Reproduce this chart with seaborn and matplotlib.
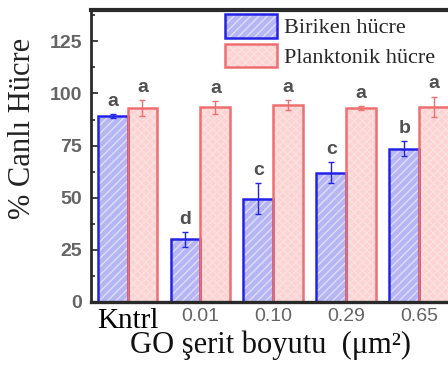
import matplotlib
matplotlib.use("Agg")
import matplotlib.pyplot as plt
import numpy as np
import pandas as pd
import seaborn as sns
from matplotlib.patches import Rectangle, Patch
from matplotlib.legend_handler import HandlerTuple
from matplotlib.ticker import MultipleLocator

# ---- data -------------------------------------------------------------
groups = ["Kntrl", "0.01", "0.10", "0.29", "0.65"]
series = ["Biriken hücre", "Planktonik hücre"]

biriken = [89.0, 30.0, 49.5, 62.0, 73.5]
biriken_err = [1.0, 3.5, 7.5, 5.0, 3.5]
biriken_letters = ["a", "d", "c", "c", "b"]

plankton = [93.0, 93.3, 94.5, 93.0, 93.5]
plankton_err = [4.0, 3.0, 2.5, 1.0, 5.0]
plankton_letters = ["a", "a", "a", "a", "a"]

yticks = [0, 25, 50, 75, 100, 125]

# ---- styling ----------------------------------------------------------
sns.set_style("white")
plt.rcParams["font.family"] = ["Liberation Sans", "DejaVu Sans"]
plt.rcParams["hatch.linewidth"] = 0.9

SERIF = ["Liberation Serif", "DejaVu Serif"]
SANS = ["Liberation Sans", "DejaVu Sans"]

blue_fill, blue_edge = "#b6b6f4", "#2323e6"
pink_fill, pink_edge = "#fcd3d3", "#ee6f6f"
blue_hatch = (1, 1, 1, 0.6)
pink_hatch = (1, 1, 1, 0.3)

df = pd.DataFrame({
    "grup": groups * 2,
    "seri": [series[0]] * len(groups) + [series[1]] * len(groups),
    "deger": biriken + plankton,
})

W, H = 448, 376
fig = plt.figure(figsize=(W / 100, H / 100), dpi=100)
# the plotting area runs on past the right edge of the canvas
ax = fig.add_axes([90.5 / W, 74 / H, 401.5 / W, 292 / H])

sns.barplot(data=df, x="grup", y="deger", hue="seri", order=groups,
            hue_order=series, palette=[blue_fill, pink_fill], width=0.82,
            errorbar=None, saturation=1, legend=False, ax=ax)

styles = [
    (blue_edge, blue_hatch, "////", biriken, biriken_err, biriken_letters),
    (pink_edge, pink_hatch, "xxxx", plankton, plankton_err, plankton_letters),
]
for container, (edge, hcol, hatch, means, errs, letters) in zip(ax.containers, styles):
    xs = []
    for bar, m, e, lt in zip(container, means, errs, letters):
        bar.set_edgecolor(hcol)
        bar.set_linewidth(0)
        bar.set_hatch(hatch)
        ax.add_patch(Rectangle(bar.get_xy(), bar.get_width(), bar.get_height(),
                               fill=False, edgecolor=edge, lw=1.8,
                               zorder=bar.get_zorder() + 0.1))
        xc = bar.get_x() + bar.get_width() / 2
        xs.append(xc)
        ax.annotate(lt, (xc, m + e), xytext=(0, 3), textcoords="offset points",
                    ha="center", va="bottom", fontsize=14, fontweight="bold",
                    color="#505050", family=SANS)
    ax.errorbar(xs, means, yerr=errs, fmt="none", ecolor=edge,
                elinewidth=1.0, capsize=2, capthick=1.0, zorder=4)

# ---- axes -------------------------------------------------------------
ax.set_xlim(-0.508, 5.0)
ax.set_ylim(0, 140)
ax.set_yticks(yticks)
ax.yaxis.set_minor_locator(MultipleLocator(12.5))
ax.tick_params(axis="y", which="both", direction="in", left=True,
               color="#222222", width=1.2, pad=6)
ax.tick_params(axis="y", which="major", length=5, labelsize=14,
               labelcolor="#646464")
ax.tick_params(axis="y", which="minor", length=3)
for lbl in ax.get_yticklabels():
    lbl.set_fontweight("bold")

ax.set_xticks(range(len(groups)))
ax.set_xticklabels(groups)
ax.tick_params(axis="x", length=0, pad=4)
for lbl in ax.get_xticklabels():
    if lbl.get_text() == "Kntrl":
        lbl.set_family(SERIF)
        lbl.set_fontsize(21)
        lbl.set_color("black")
    else:
        lbl.set_family(SANS)
        lbl.set_fontsize(14)
        lbl.set_color("#646464")

for side in ["top", "left", "bottom", "right"]:
    ax.spines[side].set_color("#2a2a2a")
ax.spines["top"].set_linewidth(3)
ax.spines["left"].set_linewidth(2)
ax.spines["bottom"].set_linewidth(2.4)

ax.set_ylabel("% Canlı Hücre", family=SERIF, fontsize=22, color="#222222")
ax.yaxis.set_label_coords((37 - 90.5) / 401.5, (302 - 128) / 292)
ax.set_xlabel("GO şerit boyutu  (μm²)", family=SERIF, fontsize=22,
              color="#111111")
ax.xaxis.set_label_coords((271 - 90.5) / 401.5, (302 - 330) / 292)

# ---- legend -----------------------------------------------------------
handles = [
    (Patch(facecolor=blue_fill, edgecolor=blue_hatch, hatch="////", lw=0),
     Patch(fill=False, edgecolor=blue_edge, lw=1.8)),
    (Patch(facecolor=pink_fill, edgecolor=pink_hatch, hatch="xxxx", lw=0),
     Patch(fill=False, edgecolor=pink_edge, lw=1.8)),
]
fig.legend(handles, series, loc="upper left",
           bbox_to_anchor=(225 / W, 1 - 14 / H), bbox_transform=fig.transFigure,
           frameon=False, borderpad=0, borderaxespad=0,
           handler_map={tuple: HandlerTuple(ndivide=1, pad=0)},
           handlelength=2.35, handleheight=1.25, handletextpad=0.3,
           labelspacing=0.25, prop={"family": SERIF, "size": 16})

fig.savefig("out.png", dpi=100)
